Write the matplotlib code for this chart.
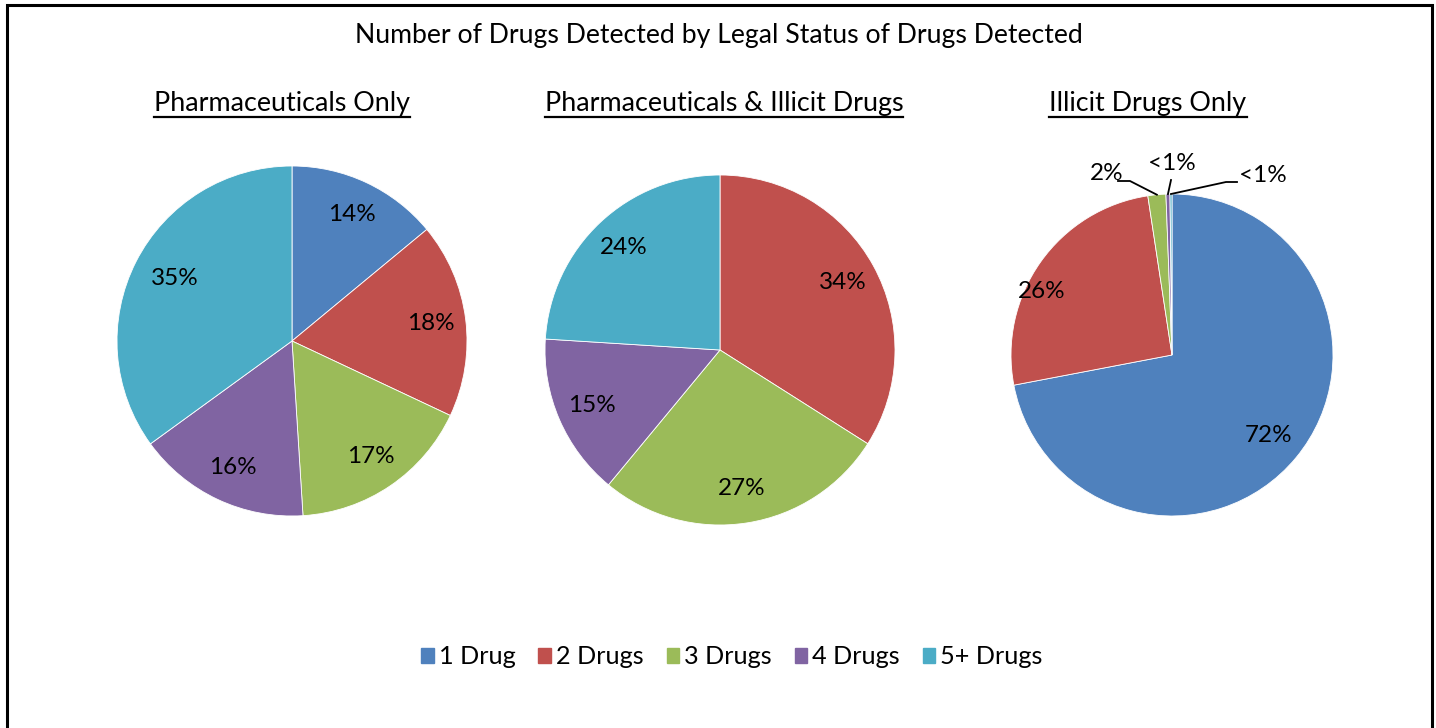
import matplotlib
matplotlib.use("Agg")
import matplotlib.pyplot as plt
from matplotlib.lines import Line2D
from matplotlib.patches import Rectangle
import numpy as np

plt.rcParams['font.family'] = ['Lato', 'DejaVu Sans']

# ---- data ----
title = "Number of Drugs Detected by Legal Status of Drugs Detected"
categories = ["1 Drug", "2 Drugs", "3 Drugs", "4 Drugs", "5+ Drugs"]
colors = ["#4F81BD", "#C0504D", "#9BBB59", "#8064A2", "#4BACC6"]

group_titles = ["Pharmaceuticals Only",
                "Pharmaceuticals & Illicit Drugs",
                "Illicit Drugs Only"]
pharma_only = [14, 18, 17, 16, 35]
pharma_illicit = [0, 34, 27, 15, 24]
illicit_only = [72.0, 25.6, 1.8, 0.4, 0.2]
series = [pharma_only, pharma_illicit, illicit_only]

W, H = 1436, 728
fig = plt.figure(figsize=(W / 100, H / 100), dpi=100)
ax = fig.add_axes([0, 0, 1, 1])


def py(y):
    """Convert a top-down pixel row into the axes' bottom-up coordinate."""
    return H - y


centers = [(292, 341), (720, 350), (1172, 355)]
radii = [175, 175, 161]
pctdist = [0.80, 0.80, 0.78]
# per-slice (angle in degrees, distance) overrides for label placement
label_override = {(0, 4): (152.0, 0.76), (2, 1): (154.0, 0.90)}

LABEL_FS = 17.5


def fmt(p):
    if p <= 0:
        return ""
    if p < 1:
        return "<1%"
    return f"{p:.0f}%"


wedge_sets = []
for k, (vals, (cx, cy), r, pdist) in enumerate(zip(series, centers, radii, pctdist)):
    total = sum(vals)
    wedges, _ = ax.pie(vals, colors=colors, startangle=90, counterclock=False,
                       center=(cx, py(cy)), radius=r,
                       wedgeprops=dict(edgecolor="white", linewidth=0.6))
    wedge_sets.append(wedges)
    for i, (w, v) in enumerate(zip(wedges, vals)):
        pct = 100 * v / total
        if pct < 3:
            continue
        ang, d = (w.theta1 + w.theta2) / 2, pdist
        if (k, i) in label_override:
            ang, d = label_override[(k, i)]
        a = np.deg2rad(ang)
        ax.text(cx + d * r * np.cos(a), py(cy) + d * r * np.sin(a), fmt(pct),
                ha="center", va="center", fontsize=LABEL_FS, color="black")

# small slices of the third pie get outside labels with leader lines
cx, cy = centers[2]
r = radii[2]
tot3 = sum(illicit_only)
small_label_pos = {2: (1107, 173), 3: (1172, 164), 4: (1263, 176)}
leader_mid = {2: (1130, 181), 3: (1171, 180), 4: (1226, 182)}
for idx, (lx, ly) in small_label_pos.items():
    w = wedge_sets[2][idx]
    mid = np.deg2rad((w.theta1 + w.theta2) / 2)
    ex, ey = cx + r * np.cos(mid), py(cy) + r * np.sin(mid)
    mx, my = leader_mid[idx]
    if idx == 2:
        xs = [mx - 12, mx, ex]
        ys = [py(my), py(my), ey]
    elif idx == 3:
        xs = [mx, ex]
        ys = [py(my), ey]
    else:
        xs = [ex, mx, mx + 11]
        ys = [ey, py(my), py(my)]
    ax.add_line(Line2D(xs, ys, color="black", lw=1.3))
    ax.text(lx, py(ly), fmt(100 * illicit_only[idx] / tot3),
            ha="center", va="center", fontsize=LABEL_FS, color="black")

ax.set_xlim(0, W)
ax.set_ylim(0, H)
ax.set_aspect("equal")
ax.axis("off")

# chart title
ax.text(719, py(35), title, ha="center", va="center", fontsize=19.2)

# underlined group titles
title_x = [282, 724, 1148]
sub_texts = []
for tx, t in zip(title_x, group_titles):
    sub_texts.append(ax.text(tx, py(103), t, ha="center", va="center",
                             fontsize=19.4))

fig.canvas.draw()
renderer = fig.canvas.get_renderer()
for t in sub_texts:
    bb = t.get_window_extent(renderer=renderer)
    ax.add_line(Line2D([bb.x0, bb.x1], [bb.y0 - 1, bb.y0 - 1],
                       color="black", lw=1.6))

# legend
handles = [Rectangle((0, 0), 1, 1, color=c) for c in colors]
fig.legend(handles, categories, loc="center", bbox_to_anchor=(732 / W, 1 - 657 / H),
           ncol=5, frameon=False, fontsize=18.2, handlelength=0.5, handleheight=0.5,
           handletextpad=0.2, columnspacing=0.9)

# outer border
ax.add_patch(Rectangle((7, -5), 1425, py(5) + 5, fill=False, edgecolor="black",
                       lw=2.2, clip_on=False))

fig.savefig("out.png", dpi=100, facecolor="white")
